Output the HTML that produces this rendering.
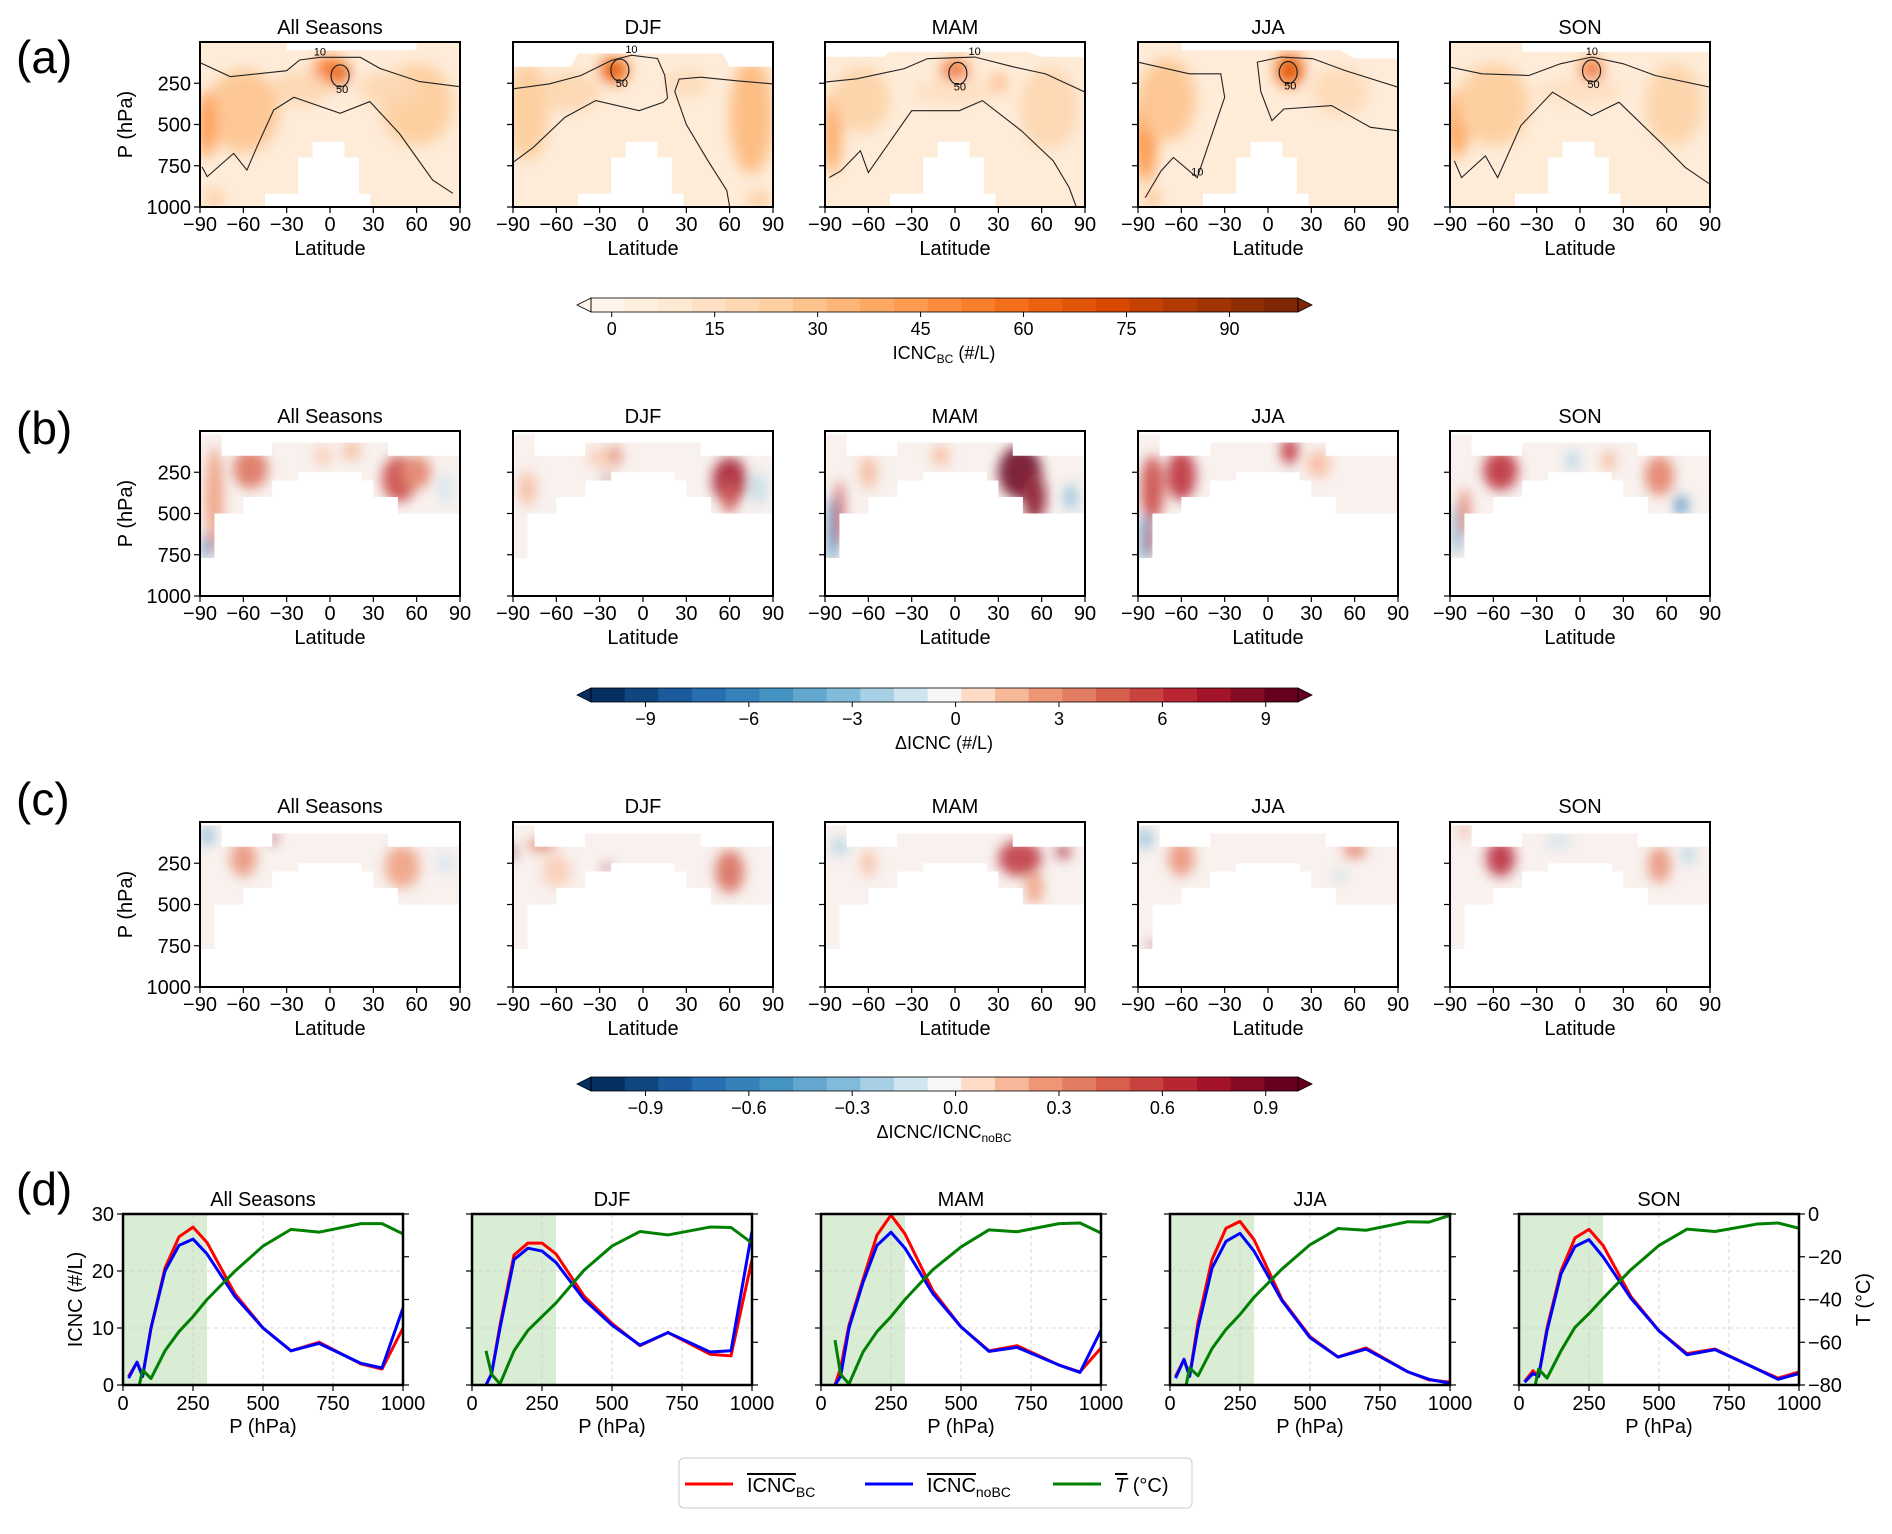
<!DOCTYPE html>
<html><head><meta charset="utf-8"><style>
html,body{margin:0;padding:0;background:#fff}
svg{display:block;font-family:"Liberation Sans","DejaVu Sans",sans-serif}
</style></head><body>
<svg id="fig" width="1892" height="1534" viewBox="0 0 1892 1534" xmlns="http://www.w3.org/2000/svg">
<defs>
<filter id="blurA" x="-50%" y="-50%" width="200%" height="200%"><feGaussianBlur stdDeviation="7"/></filter>
<filter id="blurB" x="-50%" y="-50%" width="200%" height="200%"><feGaussianBlur stdDeviation="6"/></filter>
</defs>
</svg>
<script>
// ---------- data ----------
const seasons = ["All Seasons","DJF","MAM","JJA","SON"];
const latTicks = [-90,-60,-30,0,30,60,90];
const pTicks = [250,500,750,1000];
const levels = [20,50,70,100,150,200,250,300,400,500,600,700,850,925,1000];
const icncBC = [
 [1.5,4,1.5,10,20.5,26,27.7,25,16,10,6,7.5,3.7,2.8,10],
 [null,0,2,10.5,22.8,24.9,24.9,23,15.6,10.8,6.9,9.2,5.4,5.1,22],
 [null,0,3,10.5,18.5,26.3,29.8,26.5,16.5,10.2,6,6.9,3.5,2.3,6.5],
 [1.5,4.5,1.5,11,22,27.5,28.7,25.5,15,8.5,4.9,6.5,2.3,0.9,0.5],
 [0.6,2.5,1.5,10,20,25.8,27.3,24.5,15.5,9.5,5.5,6.3,2.8,1.2,2.3]];
const icncNoBC = [
 [1.2,4,1.5,10,20,24.5,25.6,23,15.5,10,6,7.3,3.8,3,13.5],
 [null,0,2,10,22,24,23.5,21.5,15,10.5,7,9.2,5.8,6,27],
 [null,0,1.5,10,18,24.5,26.8,24,16,10.2,5.9,6.6,3.5,2.2,9.6],
 [1.2,4.5,1.5,10,20.5,25.2,26.6,23.5,14.8,8.3,4.9,6.3,2.3,1,0.3],
 [0.5,2,1.5,9.5,19.5,24.3,25.5,22.5,15.2,9.5,5.3,6.2,2.8,1,2]];
const tempC = [
 [null,-85,-73,-77,-64,-55,-48,-40,-26.7,-15,-7.2,-8.5,-4.5,-4.5,-9.3],
 [null,-64,-75,-79.5,-64,-54.4,-48,-41.6,-26.3,-15,-8.2,-9.8,-6.1,-6.3,-13.6],
 [null,-59,-75,-79.5,-64.6,-55,-48,-40,-26,-15.4,-7.4,-8.3,-4.5,-4.2,-8.9],
 [null,-85,-72,-75.7,-63,-54,-47,-39,-25.7,-14.4,-6.8,-7.6,-3.6,-3.8,-0.6],
 [null,-85,-72.6,-76.8,-64,-53,-46.6,-39.5,-26,-14.7,-7.1,-8.2,-4.7,-4.2,-6.7]];
const icncTicks = [0,10,20,30];
const tTicks = [0,-20,-40,-60,-80];
const presTicks = [0,250,500,750,1000];
// heatmap blobs: [lat, p, halfwidthDeg, halfheightHPa, value]
const blobsA = [
 [[-60,420,25,250,28],[-85,500,6,200,45],[0,180,12,90,55],[8,190,6,50,70],[60,380,25,250,25],[-20,280,20,100,20],[40,280,20,100,20],[-80,950,5,50,30],[0,600,40,200,8]],
 [[-20,170,10,80,60],[-20,170,5,40,75],[-80,420,15,300,25],[75,450,15,350,32],[30,250,15,80,18],[80,960,8,40,30],[-50,300,20,120,20]],
 [[0,180,10,70,55],[0,180,5,40,68],[30,250,5,50,40],[-85,550,6,250,40],[-65,350,20,200,22],[65,400,20,250,20],[0,300,30,80,15]],
 [[15,170,10,100,60],[15,170,5,50,78],[-85,550,8,300,45],[-70,350,20,250,28],[50,300,20,150,18],[-80,950,5,60,30]],
 [[8,180,8,80,55],[8,180,4,40,70],[-85,500,8,200,40],[-60,380,25,250,25],[65,380,20,250,22],[0,300,30,80,15]]];
const blobsB = [
 [[-55,230,12,120,4.5],[-80,400,6,300,3],[48,290,12,140,6],[60,250,10,100,4],[-5,150,6,60,1.5],[15,120,6,60,2],[-85,700,3,80,-6],[-75,700,2,60,5],[80,350,5,100,-1]],
 [[-20,150,5,60,4],[60,300,12,140,8],[60,400,5,100,6],[-80,350,6,100,2],[-30,160,8,60,1.5],[-25,280,2,30,9],[80,350,5,100,-1.5]],
 [[45,250,15,160,10],[55,400,8,150,9],[-10,150,6,60,2],[-60,250,6,100,2],[-85,600,4,200,-5],[-80,500,3,200,6],[80,400,4,80,-3]],
 [[-60,270,10,150,7],[-80,350,8,200,6],[15,120,6,80,7],[35,200,8,80,2],[-85,650,4,150,-5],[-80,650,3,100,5],[15,300,2,30,-5]],
 [[-55,240,12,120,7],[55,270,10,120,4],[-5,180,4,60,-2],[20,180,5,60,2],[70,450,4,60,-6],[-85,600,4,150,-3],[-80,500,4,150,4]]];
const blobsC = [
 [[-60,220,9,110,0.35],[50,270,12,130,0.3],[-85,80,5,60,-0.3],[-40,100,3,30,0.8],[80,250,6,60,-0.1]],
 [[60,300,10,130,0.5],[-70,140,10,40,0.4],[-90,180,2,40,0.9],[-25,280,2,30,0.9],[-60,300,10,100,0.15]],
 [[45,220,15,110,0.7],[75,180,5,40,0.8],[55,400,6,100,0.3],[-80,150,6,50,-0.2],[-60,250,5,80,0.2]],
 [[-60,220,9,110,0.35],[-85,100,5,60,-0.3],[60,170,8,50,0.4],[-80,750,2,30,0.8],[50,320,3,30,-0.2]],
 [[-55,220,10,110,0.75],[55,260,8,110,0.35],[-80,60,3,40,0.3],[75,200,4,60,-0.2],[-15,120,8,30,-0.15]]];
// 10 #/L contours per panel (lat,p pairs)
const contoursA = [
 [[[-90,125],[-69,210],[-30,174],[-21,109],[-7,93],[21,93],[34.5,160],[62,240],[90,271]],
  [[85,917],[71,836],[48,554],[27.6,361],[7,432],[-25,335],[-39,412],[-49.5,614],[-57.5,776],[-66.7,675],[-85,816],[-88.6,757]]],
 [[[-90,284],[-65,254],[-43,203],[-22,112],[-8,80],[10,100],[15,200],[17,340],[14,365],[-2.7,416],[-32.7,355],[-54,456],[-76,639],[-90,730]],
  [[90,254],[65,235],[40,213],[25,225],[22,300],[30,500],[45,720],[58,900],[60,1000]]],
 [[[-90,243],[-68,223],[-35.4,162],[-19,101],[13.6,91],[41,152],[62.7,193],[90,304]],
  [[-87,821],[-79,781],[-65.5,659],[-60,791],[-30,416],[3,416],[19,355],[46,538],[68,720],[79,882],[84,1000]]],
 [[[-90,122],[-54.5,193],[-32.7,193],[-30,335],[-49,822],[-65.5,700],[-74,781],[-85,943]],
  [[90,274],[53,172],[31,101],[9,91],[-7.4,122],[-5,300],[2.7,477],[11,406],[44,385],[71,517],[90,538]]],
 [[[-90,152],[-68,193],[-35.4,203],[-13.6,132],[8.2,91],[30,132],[52,203],[90,274]],
  [[-87,720],[-82,822],[-65.5,690],[-57,822],[-41,507],[-19,304],[8,446],[27,365],[57,619],[73,761],[90,862]]]];
const hot50 = [[7,205],[-16,170],[2,190],[14,185],[8,175]];
// mask shapes (lat,p)
const maskBC = [[-90,20],[-75,20],[-75,150],[-40,150],[-40,70],[40,70],[40,150],[90,150],[90,500],[47,500],[47,400],[30,400],[30,300],[22,300],[22,250],[-22,250],[-22,300],[-40,300],[-40,400],[-60,400],[-60,500],[-80,500],[-80,770],[-90,770]];
const notchA = [[-45,1000],[-45,920],[-22,920],[-22,700],[-12,700],[-12,605],[10,605],[10,700],[20,700],[20,920],[28,920],[28,1000]];
const topA = [
 [[-30,0],[60,0],[60,50],[-30,50]],
 [[-90,0],[90,0],[90,150],[60,150],[55,70],[-45,70],[-50,150],[-90,150]],
 [[-90,0],[90,0],[90,90],[60,90],[50,60],[-45,60],[-50,90],[-90,90]],
 [[-60,0],[90,0],[90,100],[60,100],[50,50],[-60,50]],
 [[-40,0],[90,0],[90,60],[-40,60]]];

// ---------- helpers ----------
const svg = document.getElementById('fig');
const NS = 'http://www.w3.org/2000/svg';
function mk(tag, attrs, parent){ const e=document.createElementNS(NS,tag); for(const k in attrs) e.setAttribute(k,attrs[k]); (parent||svg).appendChild(e); return e; }
function txt(x,y,s,size,anchor,parent,extra){ const t=mk('text',Object.assign({x:x,y:y,'font-size':size,'text-anchor':anchor||'middle',fill:'#000'},extra||{}),parent); t.textContent=s; return t; }
function hex(h){return [parseInt(h.slice(1,3),16),parseInt(h.slice(3,5),16),parseInt(h.slice(5,7),16)];}
function interp(stops,v){ if(v<=stops[0][0]) return 'rgb('+hex(stops[0][1])+')'; for(let i=1;i<stops.length;i++){ if(v<=stops[i][0]){ const a=stops[i-1],b=stops[i],t=(v-a[0])/(b[0]-a[0]); const ca=hex(a[1]),cb=hex(b[1]); return 'rgb('+ca.map((c,j)=>Math.round(c+(cb[j]-c)*t)).join(',')+')'; } } return 'rgb('+hex(stops[stops.length-1][1])+')'; }
const orStops=[[0,'#fff5eb'],[12,'#fee6ce'],[25,'#fdd0a2'],[38,'#fdae6b'],[50,'#fd8d3c'],[62,'#f16913'],[75,'#d94801'],[88,'#a63603'],[100,'#7f2704']];
const rbStops=[[-1,'#053061'],[-0.75,'#2166ac'],[-0.5,'#4393c3'],[-0.25,'#92c5de'],[-0.1,'#d1e5f0'],[0,'#f7f7f7'],[0.1,'#fddbc7'],[0.25,'#f4a582'],[0.5,'#d6604d'],[0.75,'#b2182b'],[1,'#67001f']];

const panelLeft=[200,513,825,1138,1450], PW=260;
const rowTop=[42,431,822], PH=165;
const rowTitleY=[34,423,813];
const rowLab=['(a)','(b)','(c)'];

// ---------- heatmap rows ----------
for(let r=0;r<3;r++){
  const top=rowTop[r];
  txt(16,[73,444,815][r],rowLab[r],46,'start',null,{});
  for(let c=0;c<5;c++){
    const L=panelLeft[c];
    const X=lat=>L+(lat+90)/180*PW, Y=p=>top+p/1000*PH;
    const g=mk('g',{});
    
    
    const cid='clip'+r+c;
    const cp=mk('clipPath',{id:cid},g);
    if(r===0) mk('rect',{x:L,y:top,width:PW,height:PH},cp);
    else mk('polygon',{points:maskBC.map(q=>X(q[0])+','+Y(q[1])).join(' ')},cp);
    const inner=mk('g',{'clip-path':'url(#'+cid+')'},g);
    mk('rect',{x:L,y:top,width:PW,height:PH,fill:r===0?'#feecd9':'#f8f1ee'},inner);
    const bl=mk('g',{filter:r===0?'url(#blurA)':'url(#blurB)',opacity:r===0?1:(r===1?0.85:0.8)},inner);
    const blobs=[blobsA,blobsB,blobsC][r][c];
    blobs.forEach(b=>{
      let col;
      if(r===0) col=interp(orStops,b[4]); else if(r===1) col=interp(rbStops,b[4]/10); else col=interp(rbStops,b[4]);
      const el=mk('ellipse',{cx:X(b[0]),cy:Y(b[1]),rx:b[2]/180*PW,ry:b[3]/1000*PH,fill:col},bl);
      
      
    });
    if(r===0){
      mk('polygon',{points:notchA.map(q=>X(q[0])+','+Y(q[1])).join(' '),fill:'#fff'},inner);
      mk('polygon',{points:topA[c].map(q=>X(q[0])+','+Y(q[1])).join(' '),fill:'#fff'},inner);
      contoursA[c].forEach(line=>{
        const pl=mk('polyline',{points:line.map(q=>X(q[0])+','+Y(q[1])).join(' '),fill:'none',stroke:'#222','stroke-width':1.1},inner);
        
        
      });
      const h=hot50[c];
      const e=mk('ellipse',{cx:X(h[0]),cy:Y(h[1]),rx:9,ry:11,fill:'none',stroke:'#222','stroke-width':1.2},inner);
      
      
      txt(X(h[0])+2,Y(h[1])+17,'50',11,'middle',inner);
      txt(X(contoursA[c][0][4][0]),Y(contoursA[c][0][4][1])-2,'10',11,'middle',inner);
    }
    // frame
    mk('rect',{x:L,y:top,width:PW,height:PH,fill:'none',stroke:'#000','stroke-width':2},g);
    txt(L+PW/2,rowTitleY[r],seasons[c],20,'middle',g,{});
    latTicks.forEach(t=>{ mk('line',{x1:X(t),x2:X(t),y1:top+PH,y2:top+PH+6,stroke:'#000','stroke-width':1.2},g);
      txt(X(t),top+PH+24,t<0?'\u2212'+(-t):String(t),20,'middle',g); });
    txt(L+PW/2,top+PH+48,'Latitude',20,'middle',g,{});
    pTicks.forEach(t=>{ mk('line',{x1:L-6,x2:L,y1:Y(t),y2:Y(t),stroke:'#000','stroke-width':1.2},g);
      if(c===0) txt(L-9,Y(t)+7,String(t),20,'end',g); });
    if(c===0){ const yt=txt(0,0,'P (hPa)',20,'middle',g,{transform:'translate(132,'+(top+PH/2)+') rotate(-90)'});  }
  }
}

// ---------- colorbars ----------
function colorbar(y,cmapFn,ticks,tickFmt,label,sub,name){
  const g=mk('g',{});  
  const x0=591,x1=1298,h=14,n=21,w=(x1-x0)/n;
  for(let i=0;i<n;i++){ mk('rect',{x:x0+i*w,y:y,width:w+0.6,height:h,fill:cmapFn(i/(n-1))},g); }
  mk('polygon',{points:(x0)+','+y+' '+(x0-14)+','+(y+h/2)+' '+x0+','+(y+h),fill:cmapFn(-0.05),stroke:'#000','stroke-width':0.8},g);
  mk('polygon',{points:(x1)+','+y+' '+(x1+14)+','+(y+h/2)+' '+x1+','+(y+h),fill:cmapFn(1.05),stroke:'#000','stroke-width':0.8},g);
  mk('rect',{x:x0,y:y,width:x1-x0,height:h,fill:'none',stroke:'#000','stroke-width':0.8},g);
  ticks.forEach(t=>{ const x=t.x; mk('line',{x1:x,x2:x,y1:y+h,y2:y+h+5,stroke:'#000'},g); txt(x,y+h+23,tickFmt(t.v),18,'middle',g); });
  const lt=txt(944,y+h+47,label,18,'middle',g);
  if(sub){ const ts=mk('tspan',{'font-size':12,dy:4},lt); ts.textContent=sub[0]; const t2=mk('tspan',{dy:-4},lt); t2.textContent=sub[1]; }
}
colorbar(298,f=>interp(orStops,f*100),[0,15,30,45,60,75,90].map(v=>({v:v,x:611.7+v*6.864})),v=>String(v),'ICNC',['BC',' (#/L)'],'colorbar-icnc');
colorbar(688,f=>interp(rbStops,f*2-1),[-9,-6,-3,0,3,6,9].map(v=>({v:v,x:955.6+v*34.46})),v=>v<0?'\u2212'+(-v):String(v),'\u0394ICNC (#/L)',null,'colorbar-delta-icnc');
colorbar(1077,f=>interp(rbStops,f*2-1),[-0.9,-0.6,-0.3,0,0.3,0.6,0.9].map(v=>({v:v,x:955.6+v*344.6})),v=>(v<0?'\u2212':'')+Math.abs(v).toFixed(1),'\u0394ICNC/ICNC',['noBC',''],'colorbar-ratio');

// ---------- line charts (d) ----------
txt(16,1205,'(d)',46,'start',null,{});
const dLeft=[123,472,821,1170,1519], DW=280, DT=1214, DH=171;
for(let c=0;c<5;c++){
  const L=dLeft[c];
  const X=p=>L+p/1000*DW, Y=v=>DT+DH-v/30*DH, YT=t=>DT+DH-(t+80)/80*DH;
  const g=mk('g',{});  
  const cid='dclip'+c; const cp=mk('clipPath',{id:cid},g); mk('rect',{x:L,y:DT,width:DW,height:DH},cp);
  const sh=mk('rect',{x:X(0),y:DT,width:X(300)-X(0),height:DH,fill:'#d9ecd4'},g);  
  [250,500,750].forEach(p=>mk('line',{x1:X(p),x2:X(p),y1:DT,y2:DT+DH,stroke:'#ccc','stroke-dasharray':'4,3','stroke-width':0.8},g));
  [10,20].forEach(v=>mk('line',{x1:L,x2:L+DW,y1:Y(v),y2:Y(v),stroke:'#ccc','stroke-dasharray':'4,3','stroke-width':0.8},g));
  const inner=mk('g',{'clip-path':'url(#'+cid+')'},g);
  function series(arr,yf,color,name){ const pts=[]; arr.forEach((v,i)=>{ if(v!==null) pts.push(X(levels[i])+','+yf(v)); });
    const pl=mk('polyline',{points:pts.join(' '),fill:'none',stroke:color,'stroke-width':3,'stroke-linejoin':'round'},inner);
      }
  series(icncBC[c],Y,'#ff0000','icnc-bc-line');
  series(icncNoBC[c],Y,'#0000ff','icnc-nobc-line');
  series(tempC[c],YT,'#008000','temperature-line');
  mk('rect',{x:L,y:DT,width:DW,height:DH,fill:'none',stroke:'#000','stroke-width':2.5},g);
  txt(L+DW/2,1206,seasons[c],20,'middle',g,{});
  presTicks.forEach(p=>{ mk('line',{x1:X(p),x2:X(p),y1:DT+DH,y2:DT+DH+6,stroke:'#000','stroke-width':1.2},g); txt(X(p),DT+DH+25,String(p),20,'middle',g); });
  txt(L+DW/2,DT+DH+48,'P (hPa)',20,'middle',g,{});
  icncTicks.forEach(v=>{ mk('line',{x1:L-6,x2:L,y1:Y(v),y2:Y(v),stroke:'#000','stroke-width':1.2},g); if(c===0) txt(L-9,Y(v)+7,String(v),20,'end',g); });
  tTicks.forEach(t=>{ mk('line',{x1:L+DW,x2:L+DW+6,y1:YT(t),y2:YT(t),stroke:'#000','stroke-width':1.2},g); if(c===4) txt(L+DW+9,YT(t)+7,t<0?'\u2212'+(-t):String(t),20,'start',g); });
  if(c===0){ const t=txt(0,0,'ICNC (#/L)',20,'middle',g,{transform:'translate(82,'+(DT+DH/2)+') rotate(-90)'});  }
  if(c===4){ const t=txt(0,0,'T (\u00B0C)',20,'middle',g,{transform:'translate(1870,'+(DT+DH/2)+') rotate(-90)'});  }
}

// ---------- legend ----------
const lg=mk('g',{});  
mk('rect',{x:679,y:1458,width:513,height:50,rx:5,fill:'#fff',stroke:'#ccc'},lg);
const entries=[['#ff0000',685,'ICNC','BC'],['#0000ff',865,'ICNC','noBC'],['#008000',1053,'T',' (\u00B0C)']];
entries.forEach((e,i)=>{
  const eg=mk('g',{},lg);  
  mk('line',{x1:e[1],x2:e[1]+48,y1:1484,y2:1484,stroke:e[0],'stroke-width':3},eg);
  const t=txt(e[1]+62,1492,'',20,'start',eg);
  const a=mk('tspan',{'text-decoration':'overline','font-style':i===2?'italic':'normal'},t); a.textContent=e[2];
  if(i<2){ const s=mk('tspan',{'font-size':14,dy:5},t); s.textContent=e[3]; }
  else { const s=mk('tspan',{},t); s.textContent=e[3]; }
});
</script>
</body></html>
